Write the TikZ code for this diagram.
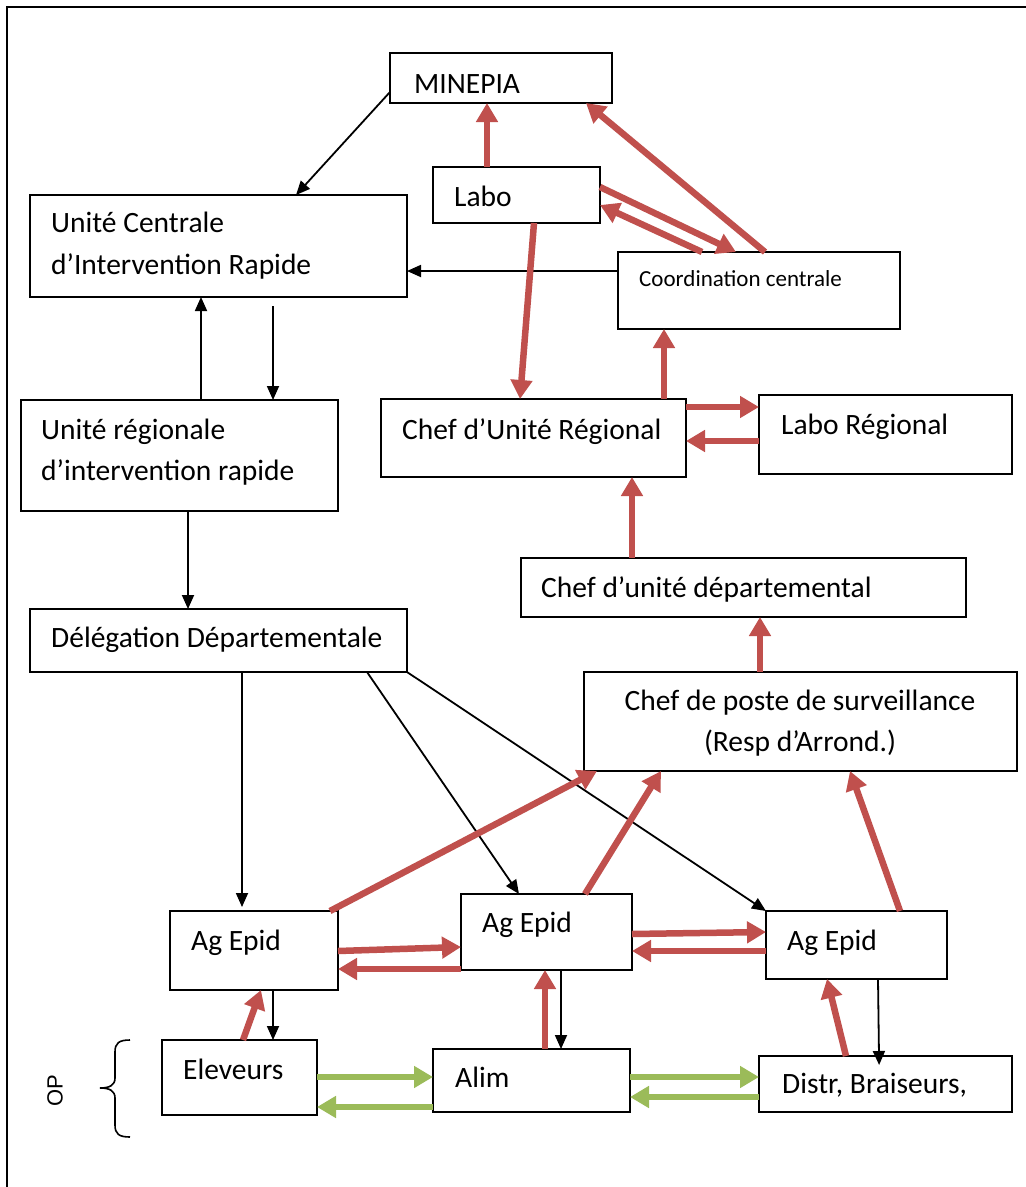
\documentclass[tikz,border=0pt]{standalone}
\usepackage{fontspec}
\setmainfont{Carlito}
\newfontfamily\opfont{Liberation Sans}
\usetikzlibrary{arrows.meta,calc}
\definecolor{redc}{HTML}{C0504D}
\definecolor{greenc}{HTML}{9BBB59}
\begin{document}
\begin{tikzpicture}[x=1pt,y=-1pt,
  box/.style={draw=black, line width=2pt, anchor=north west, inner sep=0pt, outer sep=0pt},
  txt/.style={anchor=base west, inner sep=0pt, font=\fontsize{29.5}{34}\selectfont},
  blackarr/.style={draw=black, line width=1.8pt, -{Triangle[length=14pt,width=12pt]}},
  redarr/.style={draw=redc, line width=6.5pt, -{Triangle[length=19pt,width=21pt]}},
  greenarr/.style={draw=greenc, line width=6.5pt, -{Triangle[length=19pt,width=21pt]}}]
\useasboundingbox (0,0) rectangle (1026,1187);
\fill[white] (0,0) rectangle (1026,1187);
% frame
\draw[line width=1.6pt] (7,1187) -- (7,7) -- (1026,7);

% boxes
\node[box, minimum width=222pt, minimum height=50pt] (minepia) at (390,53) {};
\node[box, minimum width=167pt, minimum height=56pt] (labo) at (433,167) {};
\node[box, minimum width=377pt, minimum height=102pt] (uc) at (30,195) {};
\node[box, minimum width=282pt, minimum height=77pt] (cc) at (618,252) {};
\node[box, minimum width=317pt, minimum height=111pt] (ur) at (21,400) {};
\node[box, minimum width=305pt, minimum height=78pt] (cur) at (381,399) {};
\node[box, minimum width=253pt, minimum height=79pt] (lr) at (759,395) {};
\node[box, minimum width=445pt, minimum height=59pt] (cud) at (521,558) {};
\node[box, minimum width=377pt, minimum height=63pt] (dd) at (30,609) {};
\node[box, minimum width=433pt, minimum height=99pt] (cp) at (584,672) {};
\node[box, minimum width=168pt, minimum height=79pt] (ag1) at (170,911) {};
\node[box, minimum width=171pt, minimum height=76pt] (ag2) at (461,894) {};
\node[box, minimum width=181pt, minimum height=68pt] (ag3) at (766,911) {};
\node[box, minimum width=155pt, minimum height=75pt] (el) at (162,1040) {};
\node[box, minimum width=197pt, minimum height=63pt] (alim) at (433,1049) {};
\node[box, minimum width=253pt, minimum height=56pt] (distr) at (759,1056) {};

% texts
\node[txt] (minepia-t) at (414,93) {MINEPIA};
\node[txt] (labo-t) at (454,206) {Labo};
\node[txt] (uc-t1) at (51,232) {Unité Centrale};
\node[txt] (uc-t2) at (51,274) {d’Intervention Rapide};
\node[txt, font=\fontsize{23}{28}\selectfont] (cc-t) at (639,286) {Coordination centrale};
\node[txt] (ur-t1) at (41,439) {Unité régionale};
\node[txt] (ur-t2) at (41,480) {d’intervention rapide};
\node[txt] (cur-t) at (402,439) {Chef d’Unité Régional};
\node[txt] (lr-t) at (781,434) {Labo Régional};
\node[txt] (cud-t) at (541,597) {Chef d’unité départemental};
\node[txt] (dd-t) at (51,647) {Délégation Départementale};
\node[txt, anchor=base] (cp-t1) at (800,710) {Chef de poste de surveillance};
\node[txt, anchor=base] (cp-t2) at (800,751) {(Resp d’Arrond.)};
\node[txt] (ag1-t) at (191,950) {Ag Epid};
\node[txt] (ag2-t) at (482,932) {Ag Epid};
\node[txt] (ag3-t) at (787,950) {Ag Epid};
\node[txt] (el-t) at (183,1079) {Eleveurs};
\node[txt] (alim-t) at (455,1087) {Alim};
\node[txt] (distr-t) at (782,1093) {Distr, Braiseurs,};

% OP and brace
\node[font=\opfont\fontsize{22}{26}\selectfont, rotate=90, inner sep=0pt] (op) at (55,1091) {OP};
\draw[line width=1.6pt] (130,1040) .. controls (119,1040) and (115,1043) .. (115,1052) -- (115,1078) .. controls (115,1085) and (110,1088) .. (100,1088) .. controls (110,1088) and (115,1091) .. (115,1098) -- (115,1125) .. controls (115,1134) and (119,1137) .. (130,1137);

% black connectors
\draw[blackarr] (minepia.west |- 0,92) -- (uc.north -| 296,0);
\draw[blackarr] (cc.west |- 0,271) -- (uc.east |- 0,271);
\draw[blackarr] (ur.north -| 201,0) -- (uc.south -| 201,0);
\coordinate (ucdown) at ($(uc.south -| 273,0)+(0,9)$);
\draw[blackarr] (ucdown) -- (ur.north -| 273,0);
\draw[blackarr] (ur.south -| 188,0) -- (dd.north -| 188,0);
\draw[blackarr, shorten >=4pt] (dd.south -| 242,0) -- (ag1.north -| 242,0);
\draw[blackarr] (dd.south -| 367,0) -- (ag2.north -| 519,0);
\draw[blackarr] (dd.south east) -- (ag3.north west);
\draw[blackarr] (ag1.south -| 273,0) -- (el.north -| 273,0);
\draw[blackarr] (ag2.south -| 561,0) -- (alim.north -| 561,0);
\draw[blackarr, shorten >=-9pt] (ag3.south -| 878,0) -- (distr.north -| 879,0);

% red connectors
\draw[redarr] (labo.north -| 487,0) -- (minepia.south -| 487,0);
\draw[redarr] (cc.north -| 765,0) -- (minepia.south -| 586,0);
\draw[redarr] (labo.east |- 0,187) -- (cc.north -| 736,0);
\draw[redarr] (cc.north -| 702,0) -- (labo.east |- 0,205);
\draw[redarr] (labo.south -| 534,0) -- (cur.north -| 520,0);
\draw[redarr] (cur.north -| 664,0) -- (cc.south -| 664,0);
\draw[redarr] (cur.east |- 0,407) -- (lr.west |- 0,407);
\draw[redarr] (lr.west |- 0,441) -- (cur.east |- 0,441);
\draw[redarr] (cud.north -| 632,0) -- (cur.south -| 632,0);
\draw[redarr] (cp.north -| 760,0) -- (cud.south -| 760,0);
\draw[redarr] (ag1.north -| 330,0) -- (cp.south -| 597,0);
\draw[redarr] (ag2.north -| 585,0) -- (cp.south -| 661,0);
\draw[redarr] (ag3.north -| 900,0) -- (cp.south -| 850,0);
\draw[redarr] (ag1.east |- 0,951) -- (ag2.west |- 0,947);
\draw[redarr] (ag2.west |- 0,969) -- (ag1.east |- 0,969);
\draw[redarr] (ag2.east |- 0,934) -- (ag3.west |- 0,932);
\draw[redarr] (ag3.west |- 0,951) -- (ag2.east |- 0,951);
\draw[redarr] (el.north -| 243,0) -- (ag1.south -| 261,0);
\draw[redarr] (alim.north -| 545,0) -- (ag2.south -| 545,0);
\draw[redarr] (distr.north -| 846,0) -- (ag3.south -| 827,0);

% green connectors
\draw[greenarr] (el.east |- 0,1077) -- (alim.west |- 0,1077);
\draw[greenarr] (alim.west |- 0,1107) -- (el.east |- 0,1107);
\draw[greenarr] (alim.east |- 0,1077) -- (distr.west |- 0,1077);
\draw[greenarr] (distr.west |- 0,1097) -- (alim.east |- 0,1097);
\end{tikzpicture}
\end{document}
